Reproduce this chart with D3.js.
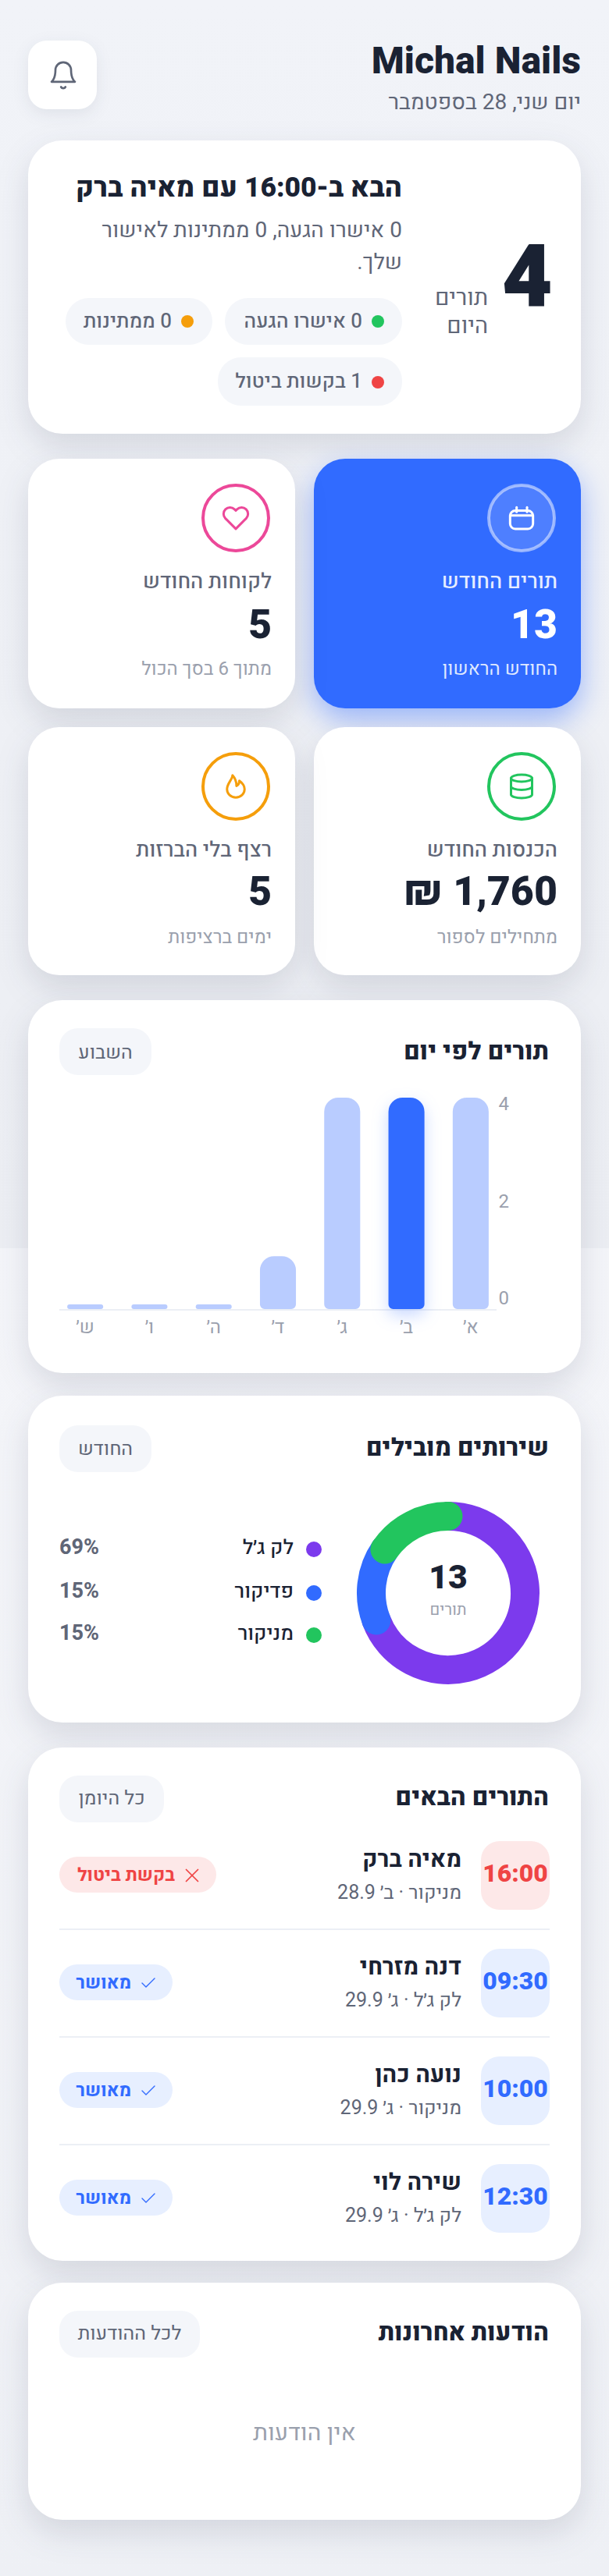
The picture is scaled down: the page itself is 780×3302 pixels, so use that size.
<!DOCTYPE html>
<html lang="he" dir="rtl">
<head>
<meta charset="utf-8">
<title>Michal Nails</title>
<script src="https://cdn.jsdelivr.net/npm/d3@7"></script>
<style>
    html, body { margin: 0; padding: 0; }
    body { background: linear-gradient(180deg, #f1f3f8 0, #eceef3 1600px, #f4f5f9 1600px, #eef0f5 3302px); }
    svg { display: block; }
    text { font-family: Heebo, Roboto, "Noto Sans", sans-serif; }
</style>
</head>
<body>
<div id="page"></div>
<script>
//Chart data
const dayLabels = ["א׳", "ב׳", "ג׳", "ד׳", "ה׳", "ו׳", "ש׳"];
const dayValues = [4, 4, 4, 1, 0, 0, 0];
const activeDay = "ב׳";
const dayTicks = [0, 2, 4];

const serviceNames = ["לק ג׳ל", "פדיקור", "מניקור"];
const serviceCounts = [9, 2, 2];
const serviceColors = ["#7c3aed", "#316bff", "#22c55e"];

const apptTimes = ["16:00", "09:30", "10:00", "12:30"];
const apptNames = ["מאיה ברק", "דנה מזרחי", "נועה כהן", "שירה לוי"];
const apptDetails = ["מניקור · ב׳ 28.9", "לק ג׳ל · ג׳ 29.9", "מניקור · ג׳ 29.9", "לק ג׳ל · ג׳ 29.9"];
const apptStatus = ["בקשת ביטול", "מאושר", "מאושר", "מאושר"];

const DARK = "#1a2233", MID = "#5f6677", LIGHT = "#9aa0ad", BLUE = "#316bff", RED = "#ef4444";

//Width and height
const w = 780;
const h = 3302;

const svg = d3.select("#page")
    .append("svg")
    .attr("width", w)
    .attr("height", h);

//Helpers
function label(parent, x, y, str, size, weight, color, anchor) {
    return parent.append("text")
        .attr("x", x)
        .attr("y", y)
        .attr("direction", "rtl")
        .attr("text-anchor", anchor || "start")
        .attr("font-size", size)
        .attr("font-weight", weight)
        .attr("fill", color)
        .text(str);
}

function card(x, y, width, height, rx, fill, shadow) {
    return svg.append("rect")
        .attr("x", x)
        .attr("y", y)
        .attr("width", width)
        .attr("height", height)
        .attr("rx", rx)
        .attr("fill", fill || "#fff")
        .style("filter", shadow || "drop-shadow(0 16px 20px rgba(30,40,70,0.13))");
}

function pill(parent, x, y, width, height, rx, fill) {
    return parent.append("rect")
        .attr("x", x)
        .attr("y", y)
        .attr("width", width)
        .attr("height", height)
        .attr("rx", rx)
        .attr("fill", fill);
}

function icon(paths, cx, cy, size, color, sw) {
    const g = svg.append("g")
        .attr("transform", `translate(${cx - size / 2},${cy - size / 2}) scale(${size / 24})`)
        .attr("fill", "none")
        .attr("stroke", color)
        .attr("stroke-width", sw)
        .attr("stroke-linecap", "round")
        .attr("stroke-linejoin", "round");
    paths.forEach(p => g.append("path").attr("d", p));
}

const ICONS = {
    bell: ["M6 8a6 6 0 0 1 12 0c0 7 3 9 3 9H3s3-2 3-9", "M10.3 21a1.94 1.94 0 0 0 3.4 0"],
    calendar: ["M7.2 6.3h9.6a4 4 0 0 1 4 4v6.1a4 4 0 0 1-4 4H7.2a4 4 0 0 1-4-4v-6.1a4 4 0 0 1 4-4z", "M16.2 3.8v3.5", "M8.2 3.8v3.5", "M3.2 10h17.6"],
    heart: ["M20.84 4.61a5.5 5.5 0 0 0-7.78 0L12 5.67l-1.06-1.06a5.5 5.5 0 0 0-7.78 7.78l1.06 1.06L12 21.23l7.78-7.78 1.06-1.06a5.5 5.5 0 0 0 0-7.78z"],
    flame: ["M9.2 2.5C9.2 6 4.5 9.5 4.5 14.5A7.5 7 0 0 0 19.5 14.5C19.5 11.5 17.5 9 15 7.2C15 9 14 11 12.6 11.6C12.6 8 11.5 5 9.2 2.5z"],
    database: ["M3 5a9 3 0 1 0 18 0a9 3 0 1 0-18 0", "M3 5v14a9 3 0 0 0 18 0V5", "M3 12a9 3 0 0 0 18 0"],
    check: ["M20 6 9 17l-5-5"],
    cross: ["M18 6 6 18", "M6 6l12 12"]
};

//Header
pill(svg, 36, 52, 88, 88, 24, "#fff").style("filter", "drop-shadow(0 6px 10px rgba(30,40,70,0.08))");
icon(ICONS.bell, 81, 96.5, 40, MID, 1.6);
label(svg, 744, 94, "Michal Nails", 48, 800, DARK);
label(svg, 744, 140, "יום שני, 28 בספטמבר", 28, 400, MID);

//Today card
card(36, 180, 708, 376, 44);
label(svg, 708, 392, "4", 112, 900, DARK);
label(svg, 625, 391, "תורים", 29, 400, MID);
label(svg, 625, 427, "היום", 29, 400, MID);
label(svg, 515, 252, "הבא ב-16:00 עם מאיה ברק", 35.5, 800, DARK);
label(svg, 515, 304, "0 אישרו הגעה, 0 ממתינות לאישור", 28, 400, MID);
label(svg, 515, 345, "שלך.", 28, 400, MID);

pill(svg, 288, 382, 227, 60, 30, "#f4f6fa");
svg.append("circle").attr("cx", 484).attr("cy", 412).attr("r", 8).attr("fill", "#22c55e");
label(svg, 464, 420, "0 אישרו הגעה", 26, 500, MID);
pill(svg, 84, 382, 188, 60, 30, "#f4f6fa");
svg.append("circle").attr("cx", 240).attr("cy", 412).attr("r", 8).attr("fill", "#f59e0b");
label(svg, 220, 420, "0 ממתינות", 26, 500, MID);
pill(svg, 279, 458, 236, 62, 30, "#f4f6fa");
svg.append("circle").attr("cx", 484).attr("cy", 490).attr("r", 8).attr("fill", RED);
label(svg, 464, 497, "1 בקשות ביטול", 26, 500, MID);

//Stat cards
function stat(x, y, hgt, color, iconName, iconSize, title, value, sub, blue) {
    card(x, y, 342, hgt, 40, blue ? BLUE : "#fff",
        blue ? "drop-shadow(0 14px 18px rgba(49,107,255,0.45))" : null);
    const r = x + 310;
    svg.append("circle")
        .attr("cx", r - 44)
        .attr("cy", y + 76)
        .attr("r", 42)
        .attr("fill", blue ? "rgba(255,255,255,0.14)" : "none")
        .attr("stroke", blue ? "rgba(255,255,255,0.5)" : color)
        .attr("stroke-width", 4);
    icon(ICONS[iconName], r - 44, y + 76, iconSize, color, iconSize === 40 ? 1.8 : 2);
    label(svg, r + 2, y + 166, title, 27, 500, blue ? "#e6edff" : MID);
    label(svg, r + 2, y + (hgt === 320 ? 230 : 228), value, 52, 800, blue ? "#fff" : DARK);
    label(svg, r + 2, y + 277, sub, 24, 400, blue ? "#dfe8ff" : LIGHT);
}
stat(402, 588, 320, "#fff", "calendar", 40, "תורים החודש", "13", "החודש הראשון", true);
stat(36, 588, 320, "#ec4899", "heart", 36, "לקוחות החודש", "5", "מתוך 6 בסך הכול");
stat(402, 932, 318, "#22c55e", "database", 36, "הכנסות החודש", "1,760 ₪", "מתחילים לספור");
stat(36, 932, 318, "#f59e0b", "flame", 36, "רצף בלי הברזות", "5", "ימים ברציפות");

//Card heading with the small badge on the left
function heading(y, baseline, title, badge, badgeW) {
    label(svg, 703, baseline, title, 31.5, 800, DARK);
    pill(svg, 76, y, badgeW, 60, 24, "#f4f6fa");
    label(svg, 76 + badgeW / 2, baseline - 1, badge, 25, 400, MID, "middle");
}

//Bars by weekday
card(36, 1282, 708, 478, 44);
heading(1318, 1358, "תורים לפי יום", "השבוע", 118);

const x = d3.scaleBand()
    .domain(dayLabels)
    .range([644, 68])
    .paddingInner(0.44)
    .paddingOuter(0.22);

const y = d3.scaleLinear()
    .domain([0, 4])
    .range([1678, 1407]);

const MIN_BAR = 6;

function barPath(d, i) {
    const x0 = x(d), bw = x.bandwidth();
    const top = Math.min(y(dayValues[i]), y(0) - MIN_BAR);
    const bh = y(0) - top;
    const rTop = Math.min(18, bh / 2), rBot = Math.min(6, bh / 2);
    return `M${x0},${top + rTop}a${rTop},${rTop} 0 0 1 ${rTop},${-rTop}h${bw - 2 * rTop}a${rTop},${rTop} 0 0 1 ${rTop},${rTop}` +
        `V${y(0) - rBot}a${rBot},${rBot} 0 0 1 ${-rBot},${rBot}h${-(bw - 2 * rBot)}a${rBot},${rBot} 0 0 1 ${-rBot},${-rBot}z`;
}

svg.append("line")
    .attr("x1", 76)
    .attr("x2", 636)
    .attr("y1", y(0) + 1)
    .attr("y2", y(0) + 1)
    .attr("stroke", "#eceff5")
    .attr("stroke-width", 2);

svg.append("g")
    .selectAll("path")
    .data(dayLabels)
    .join("path")
    .attr("d", barPath)
    .attr("fill", d => d === activeDay ? BLUE : "#b9ccff")
    .style("filter", d => d === activeDay ? "drop-shadow(0 8px 10px rgba(49,107,255,0.26))" : null);

const xAxis = d3.axisBottom(x).tickSize(0).tickPadding(10);
svg.append("g")
    .attr("transform", "translate(0,1682)")
    .call(xAxis)
    .call(g => g.select(".domain").remove())
    .selectAll("text")
    .attr("font-size", 24)
    .attr("fill", LIGHT);

//Y labels sit in their own column, a little inside the bar range
const yLabels = d3.scaleLinear().domain([0, 4]).range([1664, 1415]);
const yAxis = d3.axisRight(yLabels).tickValues(dayTicks).tickFormat(d3.format("d")).tickSize(0).tickPadding(0);
svg.append("g")
    .attr("transform", "translate(652,0)")
    .call(yAxis)
    .call(g => g.select(".domain").remove())
    .selectAll("text")
    .attr("font-size", 24)
    .attr("fill", LIGHT);

//Donut with top services
card(36, 1789, 708, 419, 44);
heading(1827, 1866, "שירותים מובילים", "החודש", 118);

const pie = d3.pie().sort(null).value(d => d);
const slices = pie(serviceCounts);
const R = 98.5;
const arc = d3.arc().innerRadius(R).outerRadius(R);

const donut = svg.append("g").attr("transform", "translate(574,2042)");
donut.selectAll("path")
    .data(slices)
    .join("path")
    .attr("d", arc)
    .attr("fill", "none")
    .attr("stroke", (d, i) => serviceColors[i])
    .attr("stroke-width", 37)
    .attr("stroke-linejoin", "round");

label(svg, 574, 2036, d3.sum(serviceCounts), 43, 800, DARK, "middle");
label(svg, 574, 2070, "תורים", 20, 400, LIGHT, "middle");

const total = d3.sum(serviceCounts);
const legendY = [1992, 2048, 2102];
serviceNames.forEach((name, i) => {
    svg.append("circle").attr("cx", 402).attr("cy", legendY[i] - 6).attr("r", 10).attr("fill", serviceColors[i]);
    label(svg, 376, legendY[i], name, 26, 500, DARK);
    label(svg, 76, legendY[i], Math.round(serviceCounts[i] / total * 100) + "%", 27, 700, MID, "end");
});

//Upcoming appointments
card(36, 2240, 708, 658, 44);
heading(2276, 2314, "התורים הבאים", "כל היומן", 134);

apptTimes.forEach((t, i) => {
    const top = 2360 + i * 138;
    const cancel = apptStatus[i] === "בקשת ביטול";
    const tint = cancel ? "#fde8e8" : "#e7efff";
    const ink = cancel ? RED : BLUE;
    pill(svg, 616, top, 88, 88, 24, tint);
    label(svg, 660, top + 52, t, 32, 800, ink, "middle");
    label(svg, 591, top + 33, apptNames[i], 30, 700, DARK);
    label(svg, 591, top + 74, apptDetails[i], 25, 400, MID);
    const pw = cancel ? 201 : 145;
    pill(svg, 76, top + 20, pw, 46, 23, tint);
    label(svg, 76 + pw - 53, top + 51, apptStatus[i], 23.5, 700, ink);
    icon(ICONS[cancel ? "cross" : "check"], 76 + pw - 31, top + 44, cancel ? 30 : 24, ink, 1.4);
    if (i < apptTimes.length - 1) {
        svg.append("line")
            .attr("x1", 76)
            .attr("x2", 704)
            .attr("y1", top + 113)
            .attr("y2", top + 113)
            .attr("stroke", "#eceff5")
            .attr("stroke-width", 2);
    }
});

//Latest messages
card(36, 2926, 708, 304, 44);
heading(2962, 3000, "הודעות אחרונות", "לכל ההודעות", 180);
label(svg, 390, 3128, "אין הודעות", 30, 400, LIGHT, "middle");
</script>
</body>
</html>
